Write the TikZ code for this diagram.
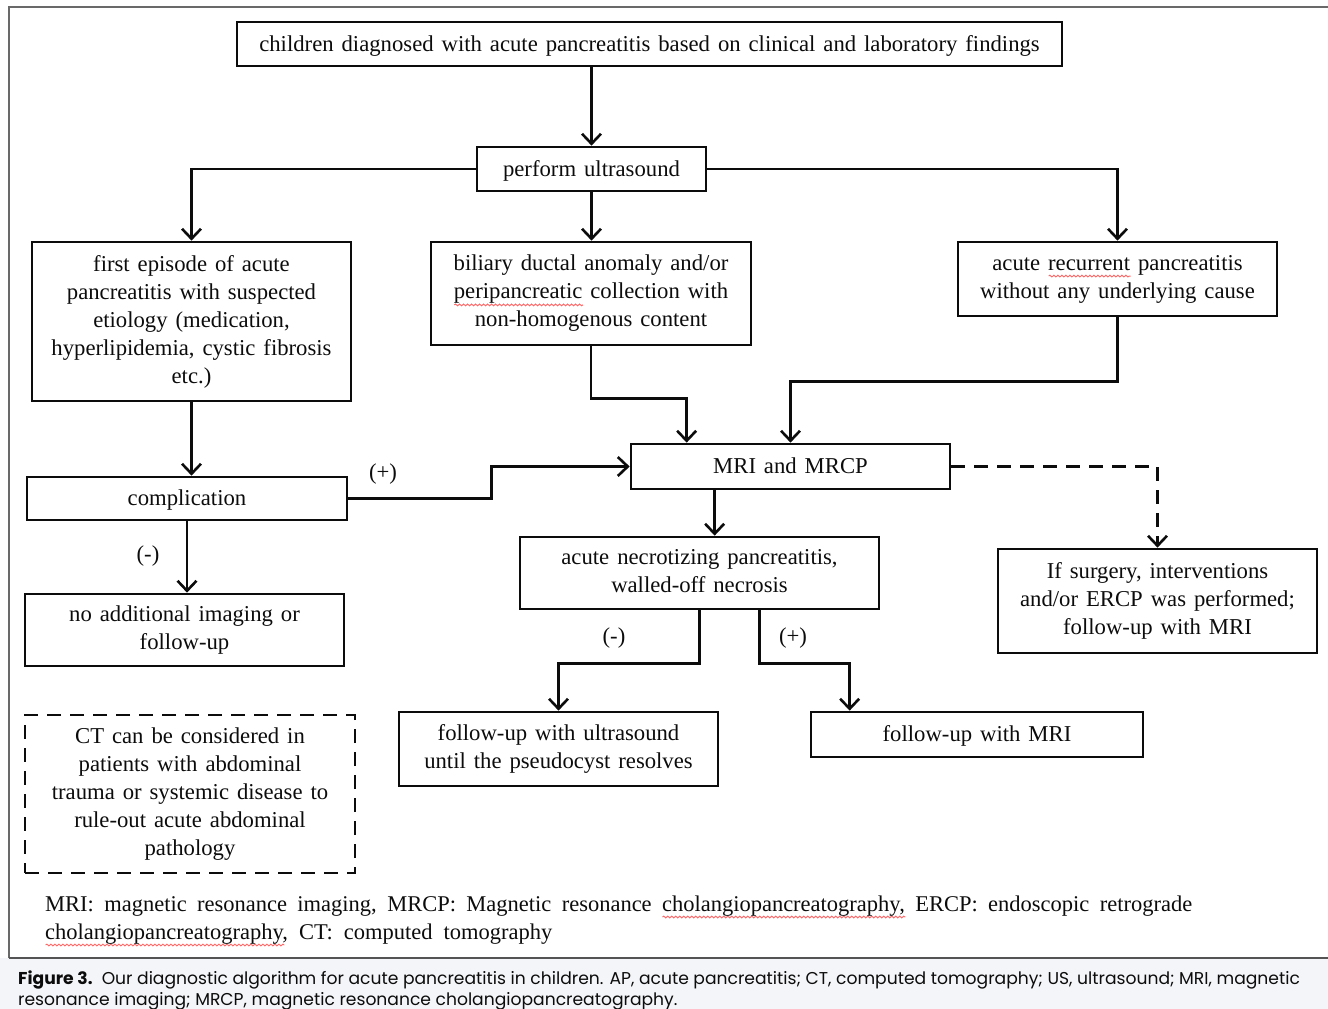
\documentclass[tikz,border=0pt]{standalone}
\usepackage{fontspec}
\setmainfont{Liberation Serif}
\newfontfamily\boxfam[WordSpace={1.4,1.5,1}]{Liberation Serif}
\newfontfamily\capfont{Poppins}
\usetikzlibrary{arrows.meta,positioning,calc,decorations.pathmorphing}

\definecolor{capbg}{RGB}{244,245,248}
\definecolor{framegray}{RGB}{105,105,105}
\definecolor{inkblack}{RGB}{12,12,12}

\newlength\errwd
\newcommand\spellerr[1]{\settowidth\errwd{#1}\leavevmode\rlap{\tikz[baseline=0pt]\draw[red!60, line width=0.9pt, decorate, decoration={snake, amplitude=0.9pt, segment length=4pt}] (0pt,-6pt) -- (\errwd,-6pt);}#1}
\newcommand\boxfont{\boxfam\fontsize{22.7}{28}\selectfont}
\newcommand\abbrfont{\fontsize{22.5}{28}\selectfont\spaceskip=11pt plus 4pt minus 2pt\relax}

\begin{document}
\begin{tikzpicture}[x=1pt, y=-1pt,
    % Node styles
    box/.style={draw=inkblack, line width=2.7pt, align=center, inner sep=0pt, text=inkblack, font=\boxfont,
      execute at begin node={\rule{0pt}{19.5pt}}, execute at end node={\rule[-4.8pt]{0pt}{4.8pt}}},
    dashbox/.style={box, dash pattern=on 14pt off 9pt},
    arrow/.style={-{Straight Barb[length=10pt,width=19pt,line width=2.6pt]}, line width=2.7pt, draw=inkblack},
    dasharrow/.style={arrow, dash pattern=on 14pt off 9pt},
    sign/.style={font=\boxfont, text=inkblack}
]

% Page, frame and caption strip
\useasboundingbox (0,0) rectangle (1328,1009);
\fill[capbg] (0,958) rectangle (1328,1009);
\draw[framegray, line width=1.5pt] (9,958) -- (9,7) -- (1328,7);
\draw[framegray!80!black, line width=2pt] (9,958) -- (1328,958);

% Boxes
\node[box, minimum width=825, minimum height=44] (diag) at (649.5,44) {children diagnosed with acute pancreatitis based on clinical and laboratory findings};
\node[box, minimum width=229, minimum height=44] (us) at (591.5,169) {perform ultrasound};
\node[box, minimum width=319, minimum height=159] (first) at (191.5,321.5) {first episode of acute\\pancreatitis with suspected\\etiology (medication,\\hyperlipidemia, cystic fibrosis\\etc.)};
\node[box, minimum width=320, minimum height=103] (biliary) at (591,293.5) {biliary ductal anomaly and/or\\\spellerr{peripancreatic} collection with\\non-homogenous content};
\node[box, minimum width=319, minimum height=74] (recur) at (1117.5,279) {acute \spellerr{recurrent} pancreatitis\\without any underlying cause};
\node[box, minimum width=319, minimum height=45] (mri) at (790.5,466.5) {MRI and MRCP};
\node[box, minimum width=320, minimum height=43] (compl) at (187,498.5) {complication};
\node[box, minimum width=319, minimum height=72] (noimg) at (184.5,630) {no additional imaging or\\follow-up};
\node[box, minimum width=359, minimum height=72] (necro) at (699.5,573) {acute necrotizing pancreatitis,\\walled-off necrosis};
\node[box, minimum width=319, minimum height=104] (surg) at (1157.5,601) {If surgery, interventions\\and/or ERCP was performed;\\follow-up with MRI};
\node[box, minimum width=319, minimum height=74] (fuus) at (558.5,749) {follow-up with ultrasound\\until the pseudocyst resolves};
\node[box, minimum width=332, minimum height=45] (fumri) at (977,734.5) {follow-up with MRI};
\node[dashbox, minimum width=330, minimum height=158] (ct) at (190,794) {CT can be considered in\\patients with abdominal\\trauma or systemic disease to\\rule-out acute abdominal\\pathology};

% Connectors
\draw[arrow] (us.north |- diag.south) -- (us.north);
\draw[arrow] (us.west) -| (first.north);
\draw[arrow] (us.south) -- (us.south |- biliary.north);
\draw[arrow] (us.east) -| (recur.north);
\draw[arrow] (biliary.south) -- ++(0,52) -| ([xshift=57pt]mri.north west);
\draw[arrow] (recur.south) -- ++(0,64) -| (mri.north);
\draw[arrow] (first.south) -- (first.south |- compl.north);
\draw[arrow] (compl.east) -- ++(143,0) |- (mri.west);
\draw[arrow] (compl.south) -- (compl.south |- noimg.north);
\draw[arrow] ([xshift=85pt]mri.south west) -- ([xshift=85pt]mri.south west |- necro.north);
\draw[dasharrow] (mri.east) -| (surg.north);
\draw[arrow] (necro.south) -- ++(0,53) -| (fuus.north);
\draw[arrow] ([xshift=241pt]necro.south west) -- ++(0,53) -| ([xshift=40pt]fumri.north west);

% Branch labels
\node[sign] (plus1) at (383,474) {(+)};
\node[sign] (minus1) at (148,556) {(-)};
\node[sign] (minus2) at (614,638) {(-)};
\node[sign] (plus2) at (793,638) {(+)};

% Abbreviations
\node[anchor=base west, inner sep=0pt, text width=1147pt, align=justify, font=\abbrfont, text=inkblack] (abbr) at (45,911)
  {MRI: magnetic resonance imaging, MRCP: Magnetic resonance \spellerr{cholangiopancreatography,} ERCP: endoscopic retrograde\linebreak
   \spellerr{cholangiopancreatography}, CT: computed tomography};

% Caption
\node[anchor=base west, inner sep=0pt, align=left, font=\capfont\fontsize{17.15}{21}\selectfont, text=inkblack] (cap) at (18,1005)
  {\textbf{Figure 3.}\ \ Our diagnostic algorithm for acute pancreatitis in children. AP, acute pancreatitis; CT, computed tomography; US, ultrasound; MRI, magnetic\\
   resonance imaging; MRCP, magnetic resonance cholangiopancreatography.};

\end{tikzpicture}
\end{document}
